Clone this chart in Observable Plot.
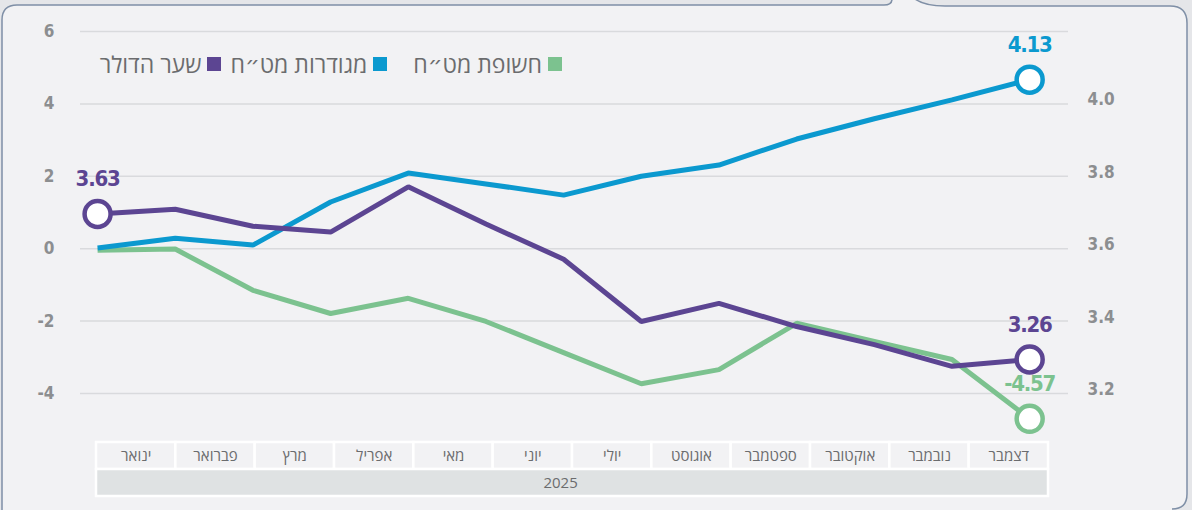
<!DOCTYPE html>
<html lang="he">
<head>
<meta charset="utf-8">
<script src="https://cdn.jsdelivr.net/npm/d3@7"></script>
<script src="https://cdn.jsdelivr.net/npm/@observablehq/plot@0.6"></script>
<style>
  html, body { margin: 0; padding: 0; background: #f2f2f4; }
  #wrap { position: relative; width: 1192px; height: 510px; background: #f2f2f4; overflow: hidden; }
  #decor, #chart, #table, #legend { position: absolute; }
  #decor { left: 0; top: 0; }
  #chart { left: 0; top: 0; }
  #table { left: 0; top: 440px; }
  #legend { right: 630px; top: 48px; direction: rtl; display: flex; align-items: center;
    font-family: "Open Sans", "DejaVu Sans", sans-serif; font-size: 23px; color: #6b6c6e; white-space: nowrap; }
  #legend .item { display: flex; align-items: center; }
  #legend .sw { width: 14px; height: 14px; margin-left: 6px; display: inline-block; }
  #chart text.num { letter-spacing: -0.6px; }
  #chart .ann text { letter-spacing: -1.2px; }
</style>
</head>
<body>
<div id="wrap">
  <svg id="decor" width="1192" height="510">
    <path d="M0,0 H892 Q892,5 884,5 H17 Q2,5 2,20 V510 H0 Z" fill="#e5e6e9"/>
    <path d="M915,0 Q925,6 945,6 H1170 Q1187,6 1187,23 V494 Q1187,509 1172,509 V510 H1192 V0 Z" fill="#e5e6e9"/>
    <path d="M2,510 V20 Q2,5 17,5 H884 Q892,5 892,-1" fill="none" stroke="#7f8fa6" stroke-width="1.5"/>
    <path d="M915,-1 Q925,6 945,6 H1170 Q1187,6 1187,23 V494 Q1187,509 1172,509" fill="none" stroke="#7f8fa6" stroke-width="1.5"/>
  </svg>
  <div id="chart"></div>
  <div id="table"></div>
  <div id="legend"></div>
</div>
<script>
// ---- data ----
const months = ["ינואר","פברואר","מרץ","אפריל","מאי","יוני","יולי","אוגוסט","ספטמבר","אוקטובר","נובמבר","דצמבר"];
const yearLabel = "2025";

const seriesKeys   = ["exposed", "hedged", "dollar"];
const seriesNames  = ["חשופת מט״ח", "מגודרות מט״ח", "שער הדולר"];
const seriesColors = ["#7cc28f", "#0b99cf", "#5c4592"];

// left axis series (percent), 13 observation points
const exposed = [-0.04, -0.01, -1.15, -1.79, -1.37, -2.01, -2.87, -3.73, -3.34, -2.06, -2.56, -3.06, -4.70];
const hedged  = [0.02, 0.29, 0.10, 1.29, 2.09, 1.79, 1.48, 2.00, 2.31, 3.03, 3.59, 4.11, 4.67];
// right axis series (dollar rate, shekels)
const dollar  = [3.696, 3.709, 3.662, 3.646, 3.771, 3.668, 3.571, 3.399, 3.449, 3.385, 3.335, 3.275, 3.294];

const leftTicks  = [-4, -2, 0, 2, 4, 6];
const rightTicks = [3.2, 3.4, 3.6, 3.8, 4.0];

// point annotations: series, point index, text
const annSeries = ["dollar", "hedged", "dollar", "exposed"];
const annIndex  = [0, 12, 12, 12];
const annText   = ["3.63", "4.13", "3.26", "-4.57"];

// dual axis alignment: right 3.6 ↔ left 0, right 0.2 ↔ left 2
const rightToLeft = v => (v - 3.6) * 10;

// ---- build rows ----
const values = {exposed, hedged, dollar: dollar.map(rightToLeft)};
const rows = [];
for (const k of seriesKeys) values[k].forEach((v, i) => rows.push({series: k, i, v}));
const anns = annSeries.map((s, j) => ({series: s, i: annIndex[j], v: values[s][annIndex[j]], text: annText[j]}));

const numFont = '"DejaVu Sans Condensed", "Liberation Sans Narrow", sans-serif';
const color = {domain: seriesKeys, range: seriesColors};
const rightPos = rightTicks.map(rightToLeft);

const chart = Plot.plot({
  width: 1192, height: 510,
  marginTop: 31, marginBottom: 117, marginLeft: 80, marginRight: 124,
  style: {background: "transparent", overflow: "visible", fontFamily: numFont},
  x: {domain: [-0.22, 12.5], axis: null},
  y: {domain: [-4, 6], axis: null},
  color,
  marks: [
    Plot.gridY(leftTicks, {stroke: "#d9dadd", strokeOpacity: 1, strokeWidth: 1.5}),
    Plot.axisY(leftTicks, {anchor: "left", label: null, tickSize: 0, tickPadding: 26, tickFormat: d => String(d),
      fontSize: 17, fontWeight: 700, fill: "#8c8e90", className: "num"}),
    Plot.axisY(rightPos, {anchor: "right", label: null, tickSize: 0, tickPadding: 19,
      tickFormat: d => rightTicks[rightPos.indexOf(d)].toFixed(1),
      dy: -4, fontSize: 17, fontWeight: 700, fill: "#8c8e90", className: "num"}),
    Plot.line(rows, {x: "i", y: "v", z: "series", stroke: "series", strokeWidth: 5, strokeLinejoin: "miter", strokeLinecap: "butt"}),
    Plot.dot(anns, {x: "i", y: "v", r: 13, fill: "white", stroke: "series", strokeWidth: 4.5}),
    Plot.text(anns, {x: "i", y: "v", text: "text", fill: "series", dy: -35,
      fontSize: 22, fontWeight: 700, fontFamily: numFont, className: "ann"})
  ]
});
document.getElementById("chart").appendChild(chart);

// ---- category table under the chart ----
const table = Plot.plot({
  width: 1192, height: 57,
  marginTop: 1, marginBottom: 1, marginLeft: 96, marginRight: 144,
  style: {background: "transparent", overflow: "visible", fontFamily: '"Open Sans", "DejaVu Sans", sans-serif'},
  x: {domain: [0, months.length], axis: null},
  y: {domain: ["month", "year"], axis: null, padding: 0},
  marks: [
    Plot.barX(months, {x1: (d, i) => i, x2: (d, i) => i + 1, y: () => "month",
      fill: "#f2f2f4", stroke: "white", strokeWidth: 2.5}),
    Plot.barX([yearLabel], {x1: 0, x2: months.length, y: () => "year",
      fill: "#dfe2e3", stroke: "white", strokeWidth: 2.5}),
    Plot.text(months, {x: (d, i) => i + 0.5, y: () => "month", text: d => d,
      fontSize: 15, fill: "#6b6c6e"}),
    Plot.text([yearLabel], {x: months.length / 2 - 0.15, y: () => "year", text: d => d,
      fontSize: 15, fill: "#6b6c6e"})
  ]
});
document.getElementById("table").appendChild(table);

// ---- legend (right-to-left) ----
const legend = document.getElementById("legend");
const itemGaps = [26, 9, 0];
seriesKeys.forEach((k, j) => {
  const item = document.createElement("span");
  item.className = "item";
  item.style.marginLeft = itemGaps[j] + "px";
  const sw = document.createElement("span");
  sw.className = "sw";
  sw.style.background = seriesColors[j];
  const lab = document.createElement("span");
  lab.textContent = seriesNames[j];
  item.appendChild(sw);
  item.appendChild(lab);
  legend.appendChild(item);
});
</script>
</body>
</html>
